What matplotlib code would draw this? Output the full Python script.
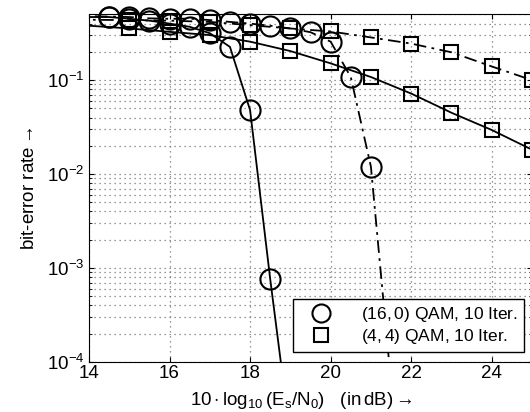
import numpy as np
import matplotlib.pyplot as plt
from matplotlib.lines import Line2D

plt.rcParams['font.family'] = ['Liberation Sans', 'DejaVu Sans']
plt.rcParams['mathtext.fontset'] = 'custom'
plt.rcParams['mathtext.rm'] = 'Liberation Sans'
plt.rcParams['mathtext.it'] = 'Liberation Sans:italic'

# (16,0) QAM, solid line
snr_c1 = [13.5, 14.0, 14.5, 15.0, 15.5, 16.0, 16.5, 17.0, 17.5, 18.0, 18.5, 19.0]
ber_c1 = [0.47, 0.47, 0.47, 0.45, 0.43, 0.40, 0.37, 0.316, 0.226, 0.048, 7.6e-4, 1.6e-5]
# (16,0) QAM, dash-dot line
snr_c2 = [13.5, 14.0, 14.5, 15.0, 15.5, 16.0, 16.5, 17.0, 17.5, 18.0, 18.5,
          19.0, 19.5, 20.0, 20.5, 21.0, 21.5]
ber_c2 = [0.48, 0.48, 0.475, 0.47, 0.455, 0.45, 0.452, 0.436, 0.417, 0.40, 0.38,
          0.355, 0.324, 0.257, 0.108, 0.012, 6e-5]
# (4,4) QAM, solid line
snr_s1 = [13.0, 14.0, 15.0, 16.0, 17.0, 18.0, 19.0, 20.0, 21.0, 22.0, 23.0, 24.0, 25.0]
ber_s1 = [0.39, 0.38, 0.355, 0.327, 0.302, 0.257, 0.204, 0.151, 0.108, 0.072, 0.045,
          0.0295, 0.0182]
# (4,4) QAM, dash-dot line
snr_s2 = [13.0, 14.0, 15.0, 16.0, 17.0, 18.0, 19.0, 20.0, 21.0, 22.0, 23.0, 24.0, 25.0]
ber_s2 = [0.45, 0.44, 0.435, 0.43, 0.417, 0.385, 0.355, 0.33, 0.285, 0.245, 0.198,
          0.14, 0.10]

xlim = (14, 25)
ylim = (1e-4, 0.5)

fig = plt.figure(figsize=(5.30, 4.12), dpi=100)
ax = fig.add_axes([89 / 530, 50 / 412, 443 / 530, 347.5 / 412])

dashdot = (0, (7, 3, 1.5, 3))
series = [
    (snr_c1, ber_c1, '-', 'o', 14.5),
    (snr_c2, ber_c2, dashdot, 'o', 14.5),
    (snr_s1, ber_s1, '-', 's', 9.5),
    (snr_s2, ber_s2, dashdot, 's', 9.5),
]
for x, y, ls, mk, ms in series:
    x = np.array(x)
    y = np.array(y)
    ax.semilogy(x, y, color='black', linestyle=ls, linewidth=1.3)
    keep = (x > xlim[0]) & (x <= xlim[1]) & (y >= ylim[0]) & (y <= ylim[1])
    ax.semilogy(x[keep], y[keep], linestyle='none', marker=mk, markersize=ms,
                markerfacecolor='none', markeredgecolor='black',
                markeredgewidth=1.5, clip_on=False)

ax.set_xlim(*xlim)
ax.set_ylim(*ylim)
ax.set_xticks([14, 16, 18, 20, 22, 24])
ax.set_yticks([1e-4, 1e-3, 1e-2, 1e-1])
ax.tick_params(which='both', direction='in', top=True, right=True, labelsize=13.5)
ax.tick_params(axis='x', pad=2)
grid_style = dict(linestyle=(0, (1, 3)), color='#777777', linewidth=0.9)
ax.grid(True, which='major', axis='x', **grid_style)
ax.grid(True, which='both', axis='y', **grid_style)

ax.set_ylabel(r'bit-error rate$\rightarrow$', fontsize=13.5, labelpad=6)
ax.set_xlabel(r'$10\cdot\log_{10}(\mathrm{E_s/N_0})\quad(\mathrm{in\,dB})\rightarrow$',
              fontsize=13.5)
ax.xaxis.set_label_coords(0.48, -0.08)

handles = [
    Line2D([], [], linestyle='none', marker='o', markersize=13, markerfacecolor='none',
           markeredgecolor='black', markeredgewidth=1.5),
    Line2D([], [], linestyle='none', marker='s', markersize=10, markerfacecolor='none',
           markeredgecolor='black', markeredgewidth=1.5),
]
labels = [r'$(16,0)$ QAM, 10 Iter.', r'$(4,4)$ QAM, 10 Iter.']
leg = ax.legend(handles, labels, loc='lower right', bbox_to_anchor=(0.99, 0.018),
                fontsize=12.5, frameon=True, fancybox=False, edgecolor='black',
                framealpha=1, borderpad=0.35, labelspacing=0.2, handletextpad=1.0,
                handlelength=2.6, borderaxespad=0.2)
leg.get_frame().set_linewidth(1.0)

fig.savefig('out.png', dpi=100)
